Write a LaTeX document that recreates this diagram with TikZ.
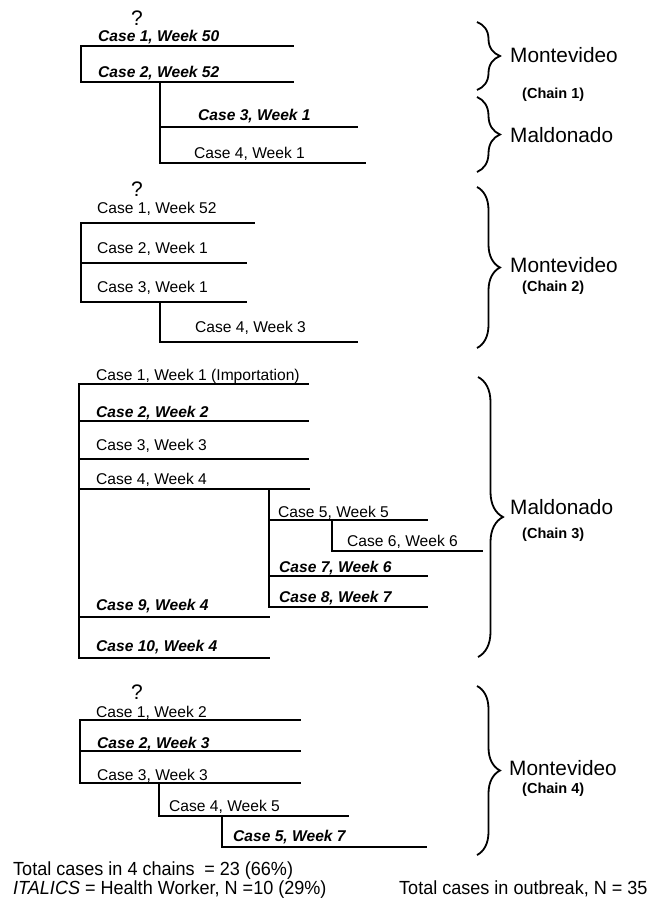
\documentclass[tikz,border=0pt]{standalone}
\usepackage{fontspec}
\setmainfont{Liberation Sans}
\newfontfamily\narrowfont[FakeStretch=0.95]{Liberation Sans}
\usetikzlibrary{decorations.pathreplacing}
\tikzset{
  branch/.style={line width=1.8pt, line cap=rect, line join=miter},
  casetxt/.style={font=\fontsize{15.6}{18}\selectfont, inner sep=0pt, anchor=base west},
  hwtxt/.style={font=\fontsize{15.6}{18}\selectfont\bfseries\itshape, inner sep=0pt, anchor=base west},
  regbrace/.style={decorate, decoration={brace, amplitude=23pt}, line width=1.8pt},
  place/.style={font=\fontsize{20.8}{24}\selectfont, inner sep=0pt, anchor=base west},
  chainlbl/.style={font=\fontsize{14.5}{17}\selectfont\bfseries, inner sep=0pt, anchor=base west},
  qmark/.style={font=\fontsize{21}{24}\selectfont, inner sep=0pt, anchor=base},
  foot/.style={font=\narrowfont\fontsize{19}{22}\selectfont, inner sep=0pt, anchor=base west},
}
% #1 name, #2 x start, #3 x end, #4 y line, #5 text x, #6 text centre y, #7 style, #8 text
\newcommand\mycase[8]{%
  \coordinate (#1s) at (#2,#4);
  \coordinate (#1e) at (#3,#4);
  \draw[branch] (#1s) -- (#1e);
  \node[#7] (#1t) at ({#5},{#6+5.6}) {#8};
}
\begin{document}
\begin{tikzpicture}[x=1pt,y=-1pt]
\useasboundingbox (0,0) rectangle (668,899);

% ---------- Chain 1 ----------
\node[qmark] (q1) at (137,25.5) {?};
\mycase{a1}{81}{293}{46}{98}{36}{hwtxt}{Case 1, Week 50}
\mycase{a2}{81}{293}{82}{98}{72}{hwtxt}{Case 2, Week 52}
\mycase{a3}{160}{357}{127}{198}{115}{hwtxt}{Case 3, Week 1}
\mycase{a4}{160}{365}{163}{194}{153}{casetxt}{Case 4, Week 1}
\draw[branch] (a1s) -- (a2s);
\draw[branch] (a2s -| a3s) -- (a4s);

\coordinate (br1t) at (477,22); \coordinate (br1b) at (477,90);
\draw[regbrace] (br1t) -- (br1b);
\node[place] (p1) at (510,62.5) {Montevideo};
\node[chainlbl] (ch1) at (522,98) {(Chain 1)};
\coordinate (br2t) at (477,97); \coordinate (br2b) at (477,172);
\draw[regbrace] (br2t) -- (br2b);
\node[place] (p2) at (510,142.5) {Maldonado};

% ---------- Chain 2 ----------
\node[qmark] (q2) at (137,196) {?};
\mycase{b1}{81}{254}{223}{97}{208}{casetxt}{Case 1, Week 52}
\mycase{b2}{81}{246}{263}{97}{248}{casetxt}{Case 2, Week 1}
\mycase{b3}{81}{246}{302}{97}{287}{casetxt}{Case 3, Week 1}
\mycase{b4}{160}{357}{342}{195}{327}{casetxt}{Case 4, Week 3}
\draw[branch] (b1s) -- (b3s);
\draw[branch] (b3s -| b4s) -- (b4s);

\coordinate (br3t) at (477,187); \coordinate (br3b) at (477,348);
\draw[regbrace] (br3t) -- (br3b);
\node[place] (p3) at (510,272.5) {Montevideo};
\node[chainlbl] (ch2) at (522,291) {(Chain 2)};

% ---------- Chain 3 ----------
\mycase{c1}{79}{308}{384}{96}{375}{casetxt}{Case 1, Week 1 (Importation)}
\mycase{c2}{79}{308}{421}{96}{412}{hwtxt}{Case 2, Week 2}
\mycase{c3}{79}{308}{459}{96}{445}{casetxt}{Case 3, Week 3}
\mycase{c4}{79}{309}{489}{96}{479}{casetxt}{Case 4, Week 4}
\mycase{c5}{269}{427}{520}{278}{512}{casetxt}{Case 5, Week 5}
\mycase{c6}{332}{482}{551}{347}{541}{casetxt}{Case 6, Week 6}
\mycase{c7}{269}{427}{576}{279}{567}{hwtxt}{Case 7, Week 6}
\mycase{c8}{269}{427}{607}{279}{597}{hwtxt}{Case 8, Week 7}
\mycase{c9}{79}{269}{617}{96}{605}{hwtxt}{Case 9, Week 4}
\mycase{c10}{79}{269}{658}{96}{646}{hwtxt}{Case 10, Week 4}
\draw[branch] (c1s) -- (c10s);
\draw[branch] (c4s -| c5s) -- (c8s);
\draw[branch] (c5s -| c6s) -- (c6s);

\coordinate (br4t) at (478,377); \coordinate (br4b) at (478,657);
\draw[regbrace, decoration={amplitude=25pt}] (br4t) -- (br4b);
\node[place] (p4) at (510,514.5) {Maldonado};
\node[chainlbl] (ch3) at (522,538) {(Chain 3)};

% ---------- Chain 4 ----------
\node[qmark] (q4) at (137,699.5) {?};
\mycase{d1}{80}{300}{720}{96}{712}{casetxt}{Case 1, Week 2}
\mycase{d2}{80}{300}{751}{97}{743}{hwtxt}{Case 2, Week 3}
\mycase{d3}{80}{300}{783}{97}{775}{casetxt}{Case 3, Week 3}
\mycase{d4}{159}{348}{816}{169}{806}{casetxt}{Case 4, Week 5}
\mycase{d5}{222}{426}{847}{233}{836}{hwtxt}{Case 5, Week 7}
\draw[branch] (d1s) -- (d3s);
\draw[branch] (d3s -| d4s) -- (d4s);
\draw[branch] (d4s -| d5s) -- (d5s);

\coordinate (br5t) at (477,686); \coordinate (br5b) at (477,855);
\draw[regbrace] (br5t) -- (br5b);
\node[place] (p5) at (509,775.5) {Montevideo};
\node[chainlbl] (ch4) at (522,793) {(Chain 4)};

% ---------- Footer ----------
\node[foot] (f1) at (13,875) {Total cases in 4 chains\enspace= 23 (66\%)};
\node[foot] (f2) at (13,894) {\textit{ITALICS} = Health Worker, N =10 (29\%)};
\node[foot] (f3) at (399,894) {Total cases in outbreak, N = 35};
\end{tikzpicture}
\end{document}
